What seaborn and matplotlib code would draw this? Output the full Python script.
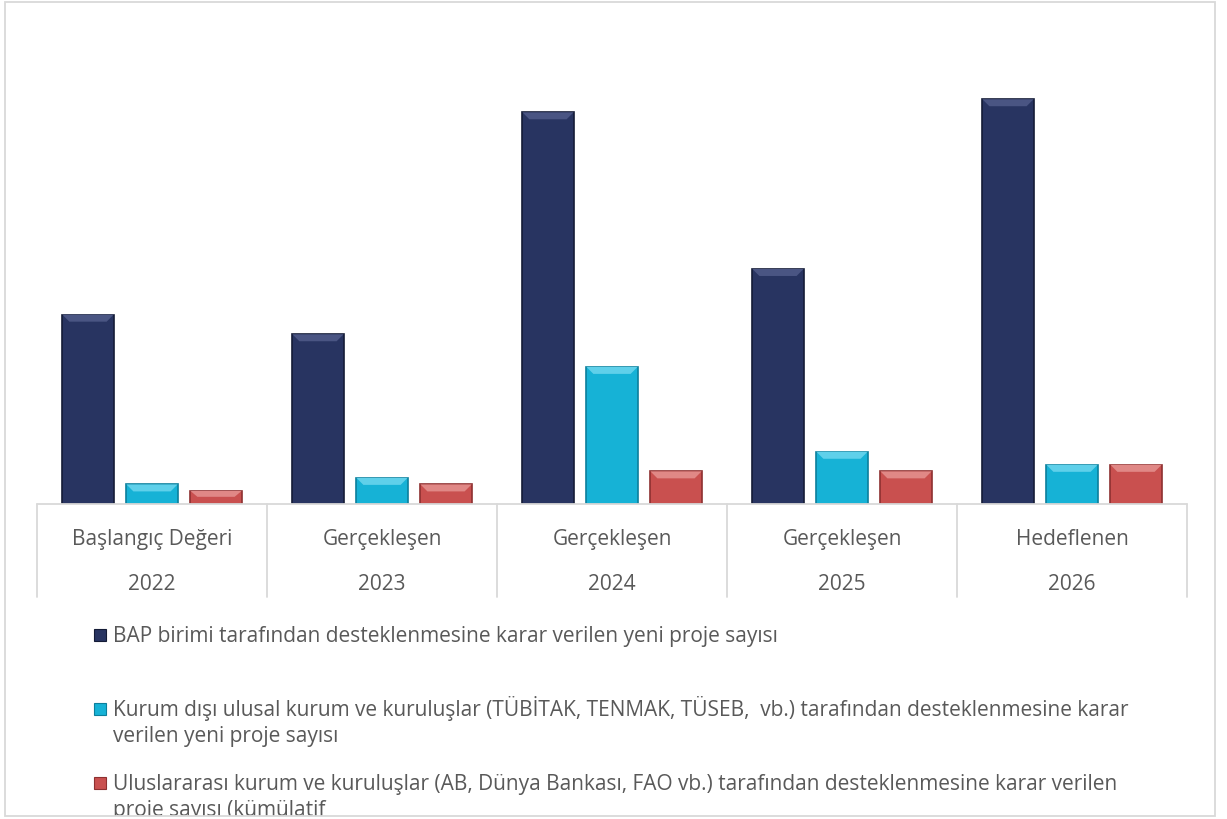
import pandas as pd
import matplotlib
matplotlib.use("Agg")
import matplotlib.pyplot as plt
import seaborn as sns
from matplotlib.patches import Rectangle, Polygon
from matplotlib.lines import Line2D

# ---------------------------------------------------------------------------
# Data
# ---------------------------------------------------------------------------

years = ["2022", "2023", "2024", "2025", "2026"]
stages = ["Başlangıç Değeri", "Gerçekleşen", "Gerçekleşen", "Gerçekleşen", "Hedeflenen"]

series_names = [
    "BAP birimi tarafından desteklenmesine karar verilen yeni proje sayısı",
    "Kurum dışı ulusal kurum ve kuruluşlar (TÜBİTAK, TENMAK, TÜSEB,  vb.) tarafından desteklenmesine karar\nverilen yeni proje sayısı",
    "Uluslararası kurum ve kuruluşlar (AB, Dünya Bankası, FAO vb.) tarafından desteklenmesine karar verilen\nproje sayısı (kümülatif",
]
bap_values = [29, 26, 60, 36, 62]
national_values = [3, 4, 21, 8, 6]
international_values = [2, 3, 5, 5, 6]

colors = ["#283461", "#16b2d6", "#c9504f"]
edge_colors = ["#141b36", "#0c7f9c", "#8e3030"]
light_colors = ["#4a5583", "#5fd0ea", "#e08886"]

TEXT = "#595959"
GRID = "#d9d9d9"
FS = 15

# long table for seaborn
df = pd.DataFrame({
    "year": years * 3,
    "series": [series_names[0]] * 5 + [series_names[1]] * 5 + [series_names[2]] * 5,
    "value": bap_values + national_values + international_values,
})

# ---------------------------------------------------------------------------
# Figure
# ---------------------------------------------------------------------------

sns.set_style("white")
plt.rcParams["font.family"] = ["Open Sans", "DejaVu Sans"]

W, H = 1227, 820
fig = plt.figure(figsize=(W / 100, H / 100), dpi=100)

ax_left, ax_right, ax_base, ax_top = 37, 1187, 505, 48
ax_h = ax_base - ax_top
ax = fig.add_axes([ax_left / W, 1 - ax_base / H,
                   (ax_right - ax_left) / W, ax_h / H])

sns.barplot(data=df, x="year", y="value", hue="series", hue_order=series_names,
            palette=colors, width=0.835, gap=0.2, legend=False, ax=ax,
            saturation=1, edgecolor="none")

ax.set_xlim(-0.5, 4.5)
ax.set_ylim(0, 70)
ax.set_xticks([])
ax.set_yticks([])
ax.set_xlabel("")
ax.set_ylabel("")
for s in ax.spines.values():
    s.set_visible(False)

# bevel look on bars
px_per_unit_y = ax_h / 70
px_per_unit_x = (ax_right - ax_left) / 5
bevel_y = 7 / px_per_unit_y
bevel_x = 7 / px_per_unit_x
bars = [p for p in ax.patches if p.get_height() > 0]
for i, p in enumerate(bars):
    k = i // 5
    x, w, h = p.get_x(), p.get_width(), p.get_height()
    p.set_edgecolor(edge_colors[k])
    p.set_linewidth(1.2)
    by = min(bevel_y, h * 0.45)
    ax.add_patch(Polygon([(x, h), (x + w, h), (x + w - bevel_x, h - by), (x + bevel_x, h - by)],
                         closed=True, facecolor=light_colors[k], edgecolor="none", zorder=3))

# category table below the bars
tr = ax.get_xaxis_transform()
drop = -(598 - ax_base) / ax_h
ax.add_line(Line2D([-0.5, 4.5], [0, 0], transform=tr, color=GRID, lw=1.3, clip_on=False))
for b in range(6):
    ax.add_line(Line2D([b - 0.5, b - 0.5], [0, drop], transform=tr, color=GRID, lw=1.3, clip_on=False))
for i, (st, yr) in enumerate(zip(stages, years)):
    ax.text(i, -(545 - ax_base) / ax_h, st, transform=tr,
            ha="center", va="baseline", fontsize=FS, color=TEXT)
    ax.text(i, -(590 - ax_base) / ax_h, yr, transform=tr,
            ha="center", va="baseline", fontsize=FS, color=TEXT)

# legend drawn by hand (wrapped entries); y values are text baselines in px
legend_rows = [(642, [series_names[0]]),
               (716, series_names[1].split("\n")),
               (790, series_names[2].split("\n"))]
for k, (y0, lines) in enumerate(legend_rows):
    sq = 12
    fig.add_artist(Rectangle((94 / W, 1 - y0 / H), sq / W, sq / H,
                             transform=fig.transFigure, facecolor=colors[k],
                             edgecolor=edge_colors[k], lw=0.8))
    for j, line in enumerate(lines):
        fig.text(113 / W, 1 - (y0 + 26.5 * j) / H, line, ha="left", va="baseline",
                 fontsize=FS, color=TEXT)

# outer border (bottom legend line is cut off by it, as in the original)
fig.add_artist(Rectangle((0, 0), 1, 3 / H, transform=fig.transFigure,
                         facecolor="white", edgecolor="none", zorder=10))
fig.add_artist(Rectangle((5 / W, 3 / H), (1215 - 5) / W, (H - 6) / H,
                         transform=fig.transFigure, facecolor="none",
                         edgecolor=GRID, lw=1.3, zorder=11))

fig.savefig("out.png", dpi=100)
